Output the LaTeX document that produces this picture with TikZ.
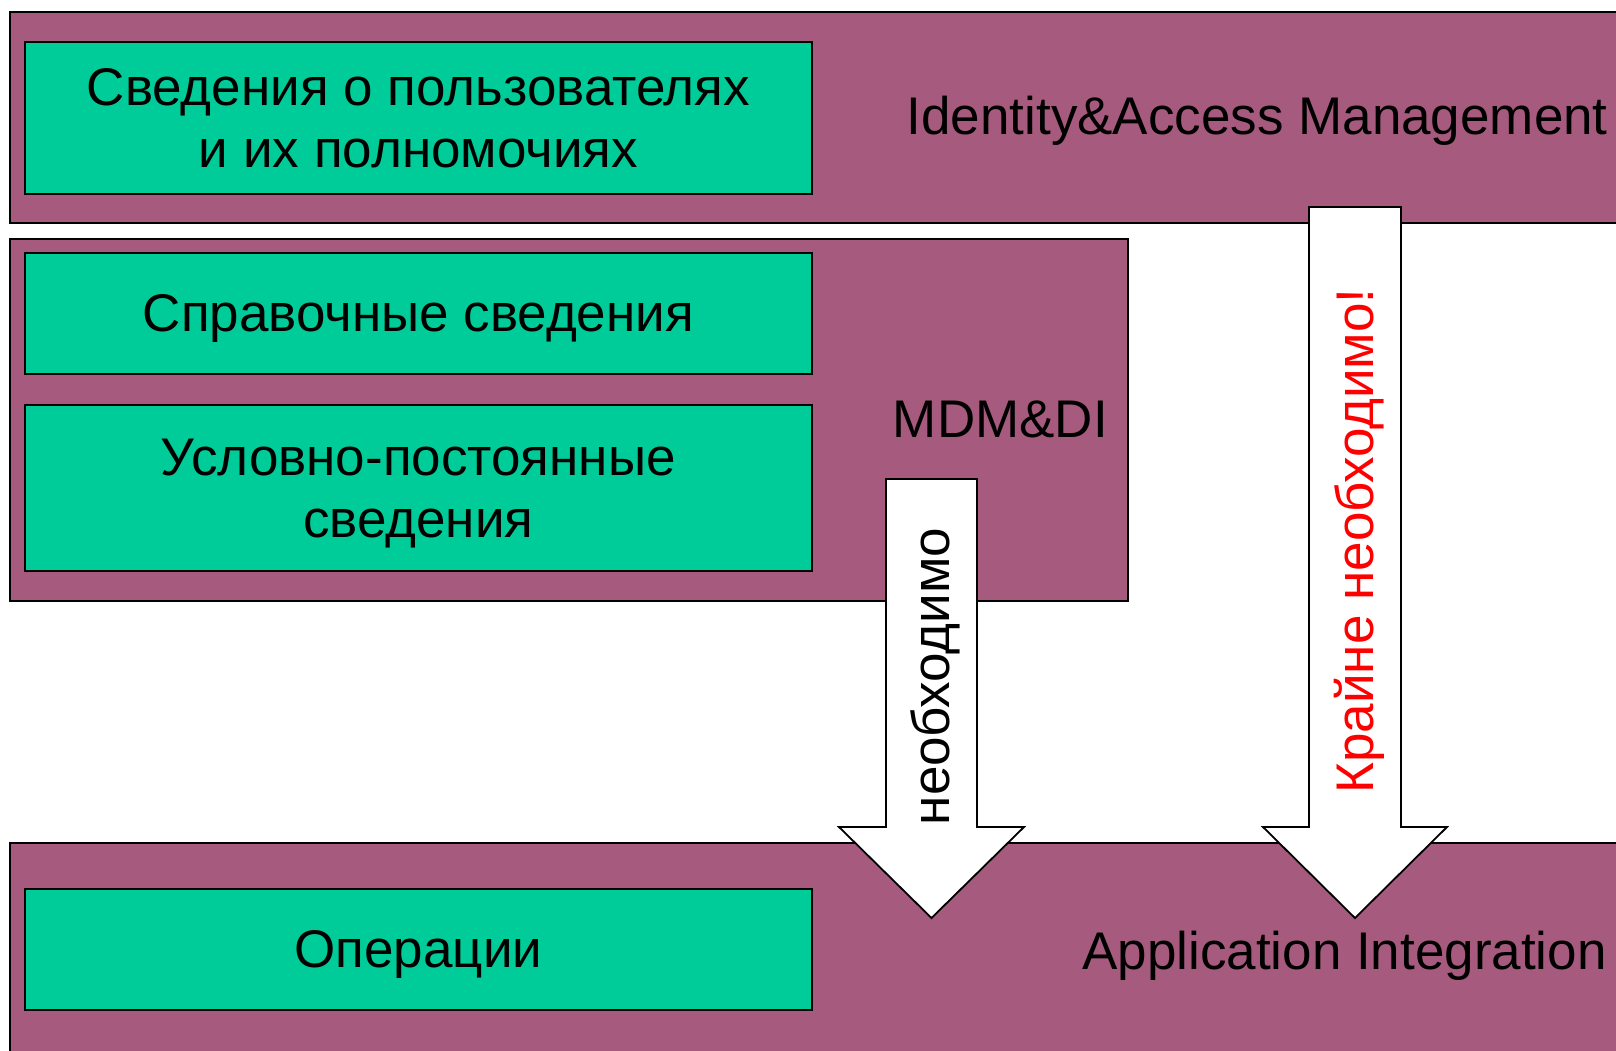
\documentclass[tikz,border=0pt]{standalone}
\usepackage{fontspec}
\setmainfont{Liberation Sans}
\definecolor{bandc}{HTML}{A65B7E}
\definecolor{leafc}{HTML}{00CC99}
\newcommand\bigfs{\fontsize{53}{62}\selectfont}
\newcommand\mystrut{\rule[-11.2pt]{0pt}{59.2pt}}
\begin{document}
\begin{tikzpicture}[x=1pt,y=-1pt,
  band/.style={draw=black, line width=1.8pt, fill=bandc, inner sep=0pt, anchor=north west},
  leafbox/.style={draw=black, line width=1.8pt, fill=leafc, inner sep=0pt, anchor=north west,
                  minimum width=787pt, font=\bigfs, align=center},
  lbl/.style={font=\bigfs, inner sep=0pt},
  blockarrow/.style={draw=black, line width=1.8pt, fill=white, line join=miter}]
\useasboundingbox (0,0) rectangle (1616,1050);
\clip (0,0) rectangle (1616,1050);
% bands
\node[band, minimum width=1640pt, minimum height=211pt] (iam) at (9,11) {};
\node[band, minimum width=1118pt, minimum height=362pt] (mdm) at (9,238) {};
\node[band, minimum width=1640pt, minimum height=220pt] (ai) at (9,842) {};
% band labels
\node[lbl, anchor=east] (iamtxt) at (1608,116.5) {\mystrut Identity\&Access Management};
\node[lbl, anchor=east] (mdmtxt) at (1108,419) {\mystrut MDM\&DI};
\node[lbl, anchor=east] (aitxt) at (1607,950.6) {\mystrut Application Integration};
% green boxes
\node[leafbox, minimum height=152pt] (users) at (24,41)
  {\mystrut Сведения о пользователях\\\mystrut и их полномочиях};
\node[leafbox, minimum height=121pt] (ref) at (24,252)
  {\mystrut Справочные сведения};
\node[leafbox, minimum height=166pt] (semi) at (24,404)
  {\mystrut Условно-постоянные\\\mystrut сведения};
\node[leafbox, minimum height=121pt] (ops) at (24,888)
  {\mystrut Операции};
% block arrows
\coordinate (a1tip) at (931.5,918);
\coordinate (a2tip) at (1355,918);
\draw[blockarrow] (886,479) -- (977,479) -- (977,827) -- (1024,827) -- (a1tip)
  -- (839,827) -- (886,827) -- cycle;
\draw[blockarrow] (1309,207) -- (1401,207) -- (1401,827) -- (1447,827) -- (a2tip)
  -- (1263,827) -- (1309,827) -- cycle;
\node[lbl, rotate=90] (need) at (931.5,676.5) {\mystrut необходимо};
\node[lbl, rotate=90, text=red] (must) at (1355,541) {\mystrut Крайне необходимо!};
\end{tikzpicture}
\end{document}
